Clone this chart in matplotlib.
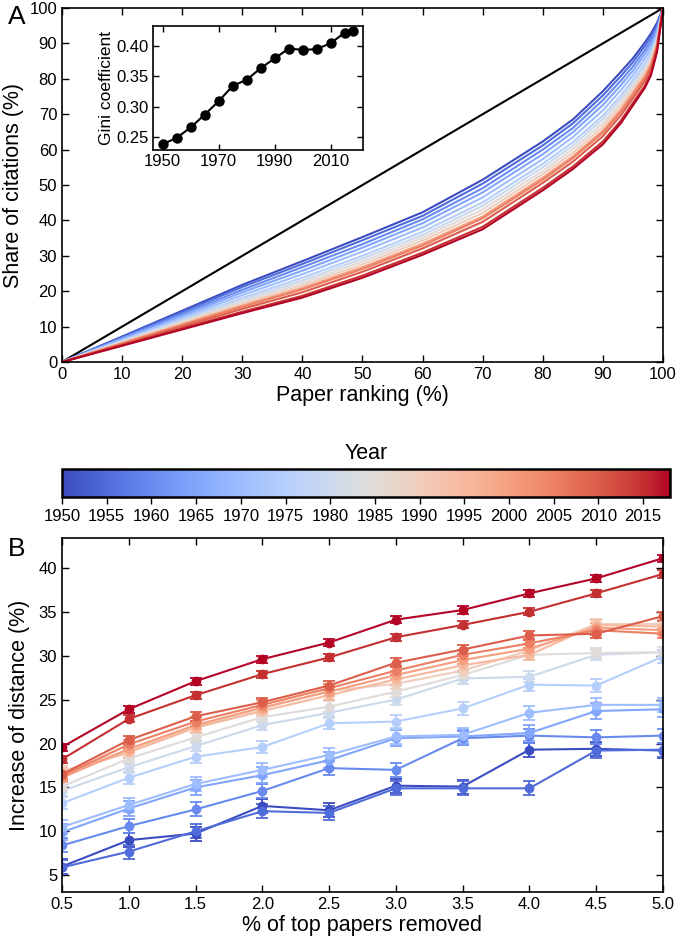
import matplotlib
matplotlib.use("Agg")
import matplotlib.pyplot as plt
import numpy as np

plt.rcParams['font.family'] = ['Liberation Sans', 'DejaVu Sans']
plt.rcParams['axes.linewidth'] = 1.2

years = [1950, 1955, 1960, 1965, 1970, 1975, 1980, 1985, 1990, 1995, 2000, 2005, 2010, 2015, 2018]

# inset: Gini coefficient per year
gini = [0.2385, 0.249, 0.266, 0.287, 0.309, 0.334, 0.344, 0.363, 0.379, 0.395, 0.393, 0.394, 0.404, 0.421, 0.423]

# panel A: share of citations vs paper ranking (Lorenz curves)
rank = [0, 10, 20, 30, 40, 50, 60, 70, 80, 85, 90, 93, 95, 97, 98, 99, 100]
share = {
    1950: [0, 7.2, 14.5, 21.8, 28.5, 35.3, 42.3, 51.5, 62.3, 68.5, 76.5, 82.0, 85.8, 90.3, 92.8, 95.8, 100],
    1955: [0, 7.0, 14.1, 21.2, 27.7, 34.4, 41.3, 50.4, 61.2, 67.4, 75.3, 80.8, 84.7, 89.3, 91.9, 95.1, 100],
    1960: [0, 6.8, 13.6, 20.4, 26.8, 33.3, 40.3, 49.1, 60.0, 66.1, 74.0, 79.5, 83.5, 88.1, 90.8, 94.4, 100],
    1965: [0, 6.5, 13.1, 19.7, 25.8, 32.3, 39.2, 47.9, 58.7, 64.9, 72.6, 78.2, 82.3, 87.0, 89.7, 93.6, 100],
    1970: [0, 6.3, 12.6, 18.9, 24.8, 31.2, 38.0, 46.5, 57.3, 63.5, 71.1, 76.8, 81.0, 85.7, 88.6, 92.8, 100],
    1975: [0, 6.0, 12.1, 18.1, 23.8, 30.0, 36.8, 45.1, 56.0, 62.1, 69.6, 75.3, 79.7, 84.4, 87.4, 92.0, 100],
    1980: [0, 5.8, 11.7, 17.6, 23.0, 29.2, 35.9, 44.1, 55.0, 61.1, 68.6, 74.3, 78.8, 83.5, 86.5, 91.4, 100],
    1985: [0, 5.6, 11.3, 17.0, 22.3, 28.4, 35.1, 43.1, 54.0, 60.1, 67.5, 73.3, 77.8, 82.6, 85.7, 90.8, 100],
    1990: [0, 5.5, 11.0, 16.4, 21.6, 27.6, 34.3, 42.1, 53.1, 59.1, 66.5, 72.3, 76.9, 81.7, 84.9, 90.2, 100],
    1995: [0, 5.3, 10.5, 15.8, 20.8, 26.7, 33.3, 41.0, 52.0, 58.0, 65.3, 71.1, 75.8, 80.7, 84.0, 89.6, 100],
    2000: [0, 5.3, 10.6, 15.9, 20.9, 26.8, 33.4, 41.1, 52.1, 58.1, 65.4, 71.3, 76.0, 80.8, 84.1, 89.7, 100],
    2005: [0, 5.2, 10.4, 15.6, 20.5, 26.3, 32.9, 40.6, 51.5, 57.6, 64.8, 70.7, 75.4, 80.3, 83.6, 89.3, 100],
    2010: [0, 5.0, 10.0, 15.0, 19.7, 25.5, 32.1, 39.6, 50.6, 56.6, 63.8, 69.7, 74.5, 79.4, 82.8, 88.7, 100],
    2015: [0, 4.7, 9.5, 14.2, 18.7, 24.4, 30.9, 38.2, 49.2, 55.2, 62.3, 68.2, 73.2, 78.1, 81.6, 87.9, 100],
    2018: [0, 4.6, 9.2, 13.8, 18.2, 23.8, 30.3, 37.5, 48.5, 54.5, 61.5, 67.5, 72.5, 77.5, 81.0, 87.5, 100],
}

# panel B: increase of distance vs % of top papers removed
removed = [0.5, 1.0, 1.5, 2.0, 2.5, 3.0, 3.5, 4.0, 4.5, 5.0]
increase = {
    1950: [6.0, 9.0, 9.75, 12.9, 12.4, 15.2, 15.1, 19.3, 19.4, 19.2],
    1955: [5.9, 7.7, 10.0, 12.3, 12.1, 14.9, 14.9, 14.9, 19.2, 19.3],
    1960: [8.4, 10.6, 12.5, 14.6, 17.2, 17.0, 20.6, 20.9, 20.7, 20.9],
    1965: [9.9, 12.6, 15.0, 16.4, 18.1, 20.6, 20.8, 21.2, 23.7, 23.9],
    1970: [10.5, 13.0, 15.4, 17.0, 18.7, 20.8, 21.0, 23.5, 24.4, 24.4],
    1975: [13.2, 16.1, 18.5, 19.6, 22.3, 22.5, 24.0, 26.7, 26.6, 29.9],
    1980: [14.6, 17.3, 19.7, 22.1, 23.5, 25.0, 27.4, 27.6, 30.1, 30.4],
    1985: [15.1, 18.3, 20.7, 23.0, 24.2, 25.9, 27.8, 30.1, 30.3, 30.4],
    1990: [16.8, 19.2, 21.9, 24.0, 26.0, 26.8, 28.3, 30.6, 33.6, 33.6],
    1995: [16.6, 19.0, 21.8, 23.7, 25.5, 27.3, 28.9, 30.1, 33.5, 33.3],
    2000: [16.1, 19.4, 22.1, 24.1, 25.9, 27.8, 29.5, 30.8, 33.2, 32.9],
    2005: [16.3, 19.9, 22.5, 24.4, 26.3, 28.3, 30.1, 31.4, 32.9, 32.5],
    2010: [16.5, 20.4, 23.1, 24.7, 26.6, 29.2, 30.7, 32.3, 32.5, 34.5],
    2015: [18.2, 22.8, 25.5, 27.9, 29.8, 32.1, 33.5, 35.0, 37.1, 39.3],
    2018: [19.6, 23.9, 27.1, 29.6, 31.5, 34.1, 35.2, 37.1, 38.8, 41.1],
}
# rough error bar size per year
err = {1950: 0.8, 1955: 0.8, 1960: 0.8, 1965: 0.9, 1970: 0.8, 1975: 0.7, 1980: 0.6, 1985: 0.6,
       1990: 0.6, 1995: 0.6, 2000: 0.5, 2005: 0.5, 2010: 0.5, 2015: 0.4, 2018: 0.4}

cmap = plt.get_cmap('coolwarm')
norm = matplotlib.colors.Normalize(vmin=1950, vmax=2018)

fig = plt.figure(figsize=(6.77, 9.42), dpi=100)

def style(ax):
    ax.tick_params(direction='in', top=True, right=True, length=5, width=1, labelsize=12)

# panel A
axA = fig.add_axes([0.0916, 0.6157, 0.8877, 0.3758])
axA.plot([0, 100], [0, 100], color='black', lw=1.5)
for y in years:
    axA.plot(rank, share[y], color=cmap(norm(y)), lw=1.5)
axA.set_xlim(0, 100)
axA.set_ylim(0, 100)
axA.set_xticks(np.arange(0, 101, 10))
axA.set_yticks(np.arange(0, 101, 10))
axA.set_xlabel('Paper ranking (%)', fontsize=15.5, labelpad=2)
axA.set_ylabel('Share of citations (%)', fontsize=15.5, labelpad=4)
style(axA)
fig.text(0.012, 0.975, 'A', fontsize=19)

# inset
axI = fig.add_axes([0.226, 0.8408, 0.310, 0.1316])
axI.plot(years, gini, '-o', color='black', lw=1.5, ms=6.5)
axI.set_xlim(1946.5, 2021.5)
axI.set_ylim(0.229, 0.432)
axI.set_xticks([1950, 1970, 1990, 2010])
axI.set_yticks([0.25, 0.30, 0.35, 0.40])
axI.yaxis.set_major_formatter(matplotlib.ticker.FormatStrFormatter('%.2f'))
axI.set_ylabel('Gini coefficient', fontsize=12.5, labelpad=2)
axI.tick_params(direction='in', top=True, right=True, length=4, width=1, labelsize=12, pad=3)

# colorbar
cax = fig.add_axes([0.0916, 0.4724, 0.898, 0.0297])
sm = matplotlib.cm.ScalarMappable(norm=norm, cmap=cmap)
cb = fig.colorbar(sm, cax=cax, orientation='horizontal')
cb.set_ticks(list(range(1950, 2016, 5)))
cb.ax.tick_params(labelsize=12, length=5, width=1)
cb.outline.set_linewidth(1.8)
cax.set_title('Year', fontsize=15.5, pad=7)

# panel B
axB = fig.add_axes([0.0916, 0.0531, 0.8877, 0.3758])
for y in years:
    c = cmap(norm(y))
    axB.errorbar(removed, increase[y], yerr=err[y], color=c, lw=1.5, marker='o', ms=6,
                 capsize=4, capthick=1.3, elinewidth=1.3)
axB.set_xlim(0.5, 5.0)
axB.set_ylim(3.1, 43.4)
axB.set_xticks(np.arange(0.5, 5.01, 0.5))
axB.xaxis.set_major_formatter(matplotlib.ticker.FormatStrFormatter('%.1f'))
axB.set_yticks(np.arange(5, 41, 5))
axB.set_xlabel('% of top papers removed', fontsize=15.5, labelpad=2)
axB.set_ylabel('Increase of distance (%)', fontsize=15.5, labelpad=6)
style(axB)
fig.text(0.012, 0.41, 'B', fontsize=19)

fig.savefig('out.png', dpi=100)
